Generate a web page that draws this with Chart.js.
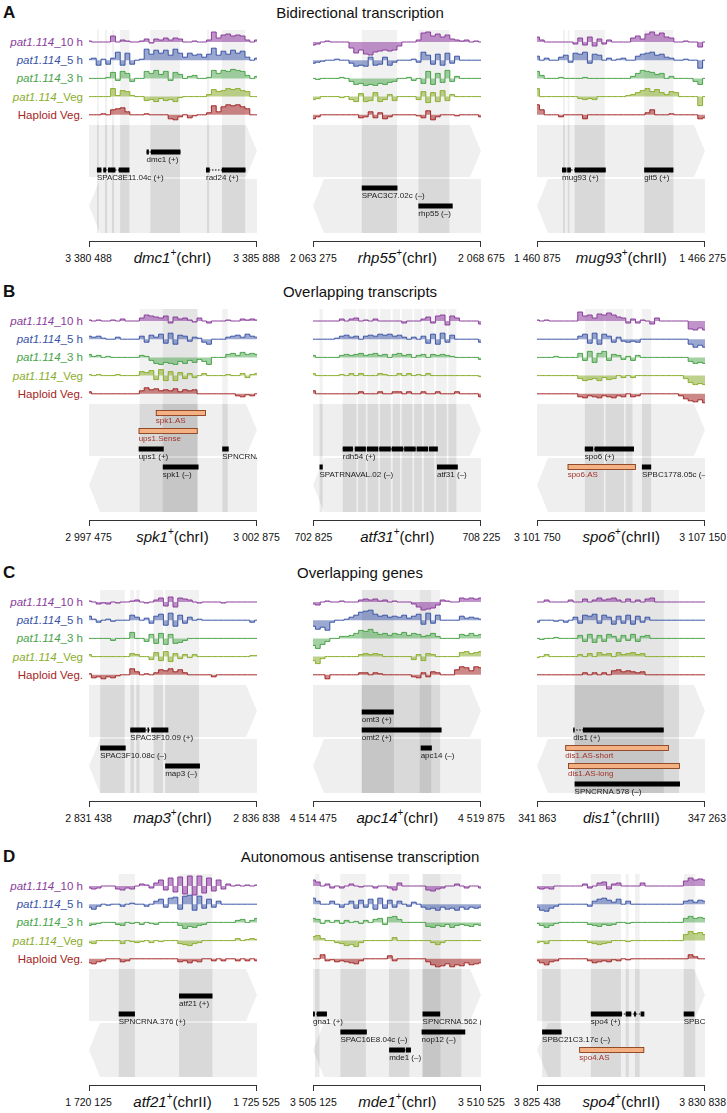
<!DOCTYPE html>
<html>
<head>
<meta charset="utf-8">
<script src="https://cdn.jsdelivr.net/npm/chart.js@4.4.1/dist/chart.umd.min.js"></script>
<style>
body{margin:0;width:727px;height:1113px;position:relative;background:#fff;overflow:hidden;
 font-family:"Liberation Sans",Arial,Helvetica,sans-serif;color:#111}
.abs{position:absolute;white-space:nowrap}
.letter{font-weight:bold;font-size:17px;line-height:18px;left:3px}
.title{font-size:15px;line-height:18px;left:0;width:720px;text-align:center}
.tlab{font-size:11.5px;line-height:14px;text-align:right;width:110px}
.brk{height:6px;border:1px solid #333;border-bottom:none;box-sizing:border-box}
.num{font-size:10.5px;line-height:14px;width:90px;text-align:center}
.gname{font-size:15px;line-height:18px;text-align:center}
.gname .sup{font-size:10px;position:relative;top:-7px}
canvas{position:absolute}
</style>
</head>
<body>
<script>
// ---- text ----
const panelLetters = ['A','B','C','D'];
const panelTitles = ['Bidirectional transcription','Overlapping transcripts','Overlapping genes','Autonomous antisense transcription'];
const trackNames = ['pat1.114_10 h','pat1.114_5 h','pat1.114_3 h','pat1.114_Veg','Haploid Veg.'];
const trackColors = ['#8a3c9c','#3853a6','#47a347','#8aad2b','#a32424'];
const trackFills = ['rgba(140,60,160,0.55)','rgba(56,83,166,0.5)','rgba(71,163,71,0.5)','rgba(138,173,43,0.55)','rgba(163,36,36,0.55)'];

// locus: gene, chromosome, window start, window end
const lociGene = ['dmc1','rhp55','mug93','spk1','atf31','spo6','map3','apc14','dis1','atf21','mde1','spo4'];
const lociChr = ['chrI','chrI','chrII','chrI','chrI','chrII','chrI','chrI','chrIII','chrII','chrI','chrII'];
const lociStart = [3380488,2063275,1460875,2997475,702825,3101750,2831438,4514475,341863,1720125,3505125,3825438];
const lociEnd = [3385888,2068675,1466275,3002875,708225,3107150,2836838,4519875,347263,1725525,3510525,3830838];

// ---- signal tracks (5 per locus: 10 h, 5 h, 3 h, Veg, haploid Veg), samples across the window ----
const dmc1Signal = [
 [1,0,0,0,0,6,0,2,1,0,0,1,3,-1,3,2,4,2,4,3,0,0,1,0,0,2,10,4,7,8,6,7,6,2,0,2],
 [1,2,-5,1,-4,2,8,-5,7,-4,0,1,11,6,10,7,10,5,11,7,3,7,5,6,3,6,12,5,9,6,10,7,9,3,0,2],
 [0,0,0,0,1,6,-2,7,5,-3,0,0,7,5,8,4,7,-2,6,4,0,2,3,0,0,1,8,5,8,7,9,8,7,3,0,2],
 [0,0,0,0,0,8,1,6,5,1,0,0,-4,-3,-5,-2,-4,-3,-5,-1,0,0,0,0,0,2,7,5,6,8,7,8,6,5,0,0],
 [0,0,0,1,0,5,6,7,3,0,0,0,1,0,0,0,0,-4,-5,-2,0,-3,-1,0,0,2,9,3,8,10,9,10,8,6,0,0]];
const rhp55Signal = [
 [-3,-2,0,1,0,0,0,0,-6,-11,-8,-12,-13,-10,-9,-8,-9,-8,-4,0,0,0,2,9,10,6,8,5,7,3,2,1,2,0,1,0],
 [-3,-2,-1,0,0,1,0,0,-3,-6,-5,-6,3,-5,-4,3,-5,-2,0,0,0,1,-2,8,5,-4,6,-5,7,-3,4,0,0,0,0,0],
 [0,-1,0,0,0,0,1,0,-3,-6,-5,-7,-6,-7,-5,-6,-4,-3,0,0,1,-2,0,-5,7,-6,5,-4,8,-3,2,0,0,0,0,0],
 [-3,-2,0,0,0,0,-1,0,-3,-5,3,-5,-4,4,-5,-3,2,-4,0,0,0,0,-3,5,-6,4,-5,6,-4,2,0,0,0,0,0,0],
 [-4,-2,0,0,0,0,0,0,0,0,-3,-2,3,-3,2,-4,-2,0,0,0,0,0,-1,-3,4,-5,-2,0,0,0,-1,0,0,0,0,-2]];
const mug93Signal = [
 [5,2,0,0,0,0,0,0,-2,4,-3,5,-4,3,-2,2,0,0,0,0,4,6,3,8,10,7,9,5,4,0,0,1,0,0,-5,0],
 [4,0,2,0,0,3,5,-2,7,6,8,-3,6,5,0,2,0,1,2,0,0,4,6,7,8,5,6,3,2,0,0,1,0,0,-8,0],
 [7,3,0,0,0,1,0,0,0,0,1,0,0,0,0,0,0,0,0,0,2,5,8,7,6,4,5,0,2,0,0,0,0,-3,-6,0],
 [8,0,0,0,0,0,0,0,0,-2,-3,-2,-3,0,0,0,0,0,0,1,2,4,6,8,5,7,4,2,5,4,0,0,0,0,-9,0],
 [10,5,0,0,0,-2,0,0,0,0,-4,0,0,0,0,0,0,0,0,0,0,0,0,2,5,0,0,0,1,0,0,0,0,0,-4,-3]];
const spk1Signal = [
 [1,0,1,0,0,1,0,2,0,0,0,3,6,5,4,3,5,-2,4,2,3,1,-1,3,0,-2,0,0,0,1,0,0,2,1,2,1],
 [3,2,3,1,0,0,2,0,0,0,0,3,-3,4,2,5,-4,6,-5,4,3,-2,2,1,-3,-5,0,0,0,2,3,4,2,5,3,2],
 [3,1,2,0,1,0,0,0,0,0,0,2,1,-3,-6,-7,-5,-6,-7,-4,-6,-3,-5,-2,-4,-7,0,0,0,3,4,2,5,3,4,3],
 [1,0,1,0,0,0,1,0,0,0,0,4,3,5,-4,6,-5,4,-5,3,-3,2,-2,0,2,0,0,0,0,1,0,0,2,-2,1,2],
 [2,0,0,0,0,0,0,0,0,0,0,3,6,4,5,3,4,3,5,2,4,3,4,0,0,0,0,0,0,0,0,-2,-3,-1,-2,0]];
const atf31Signal = [
 [0,0,0,0,0,0,2,0,2,3,0,1,0,2,0,0,0,0,0,-2,0,0,0,2,4,-2,5,6,-4,5,3,0,0,0,0,-3],
 [0,0,0,0,0,1,3,4,2,3,0,3,4,3,5,4,5,3,4,2,0,2,0,3,-4,5,-5,6,-3,4,0,0,0,0,0,-3],
 [2,0,0,0,0,0,2,3,2,3,4,2,3,4,2,3,0,3,4,2,3,0,2,3,0,3,2,3,2,1,0,0,0,0,0,-2],
 [2,0,0,0,0,0,1,0,2,0,2,0,0,0,2,1,0,0,2,0,2,0,1,0,2,0,0,0,0,0,0,0,0,0,0,-1],
 [3,0,0,0,0,0,0,0,0,0,2,0,0,0,2,0,0,2,2,0,2,0,0,2,0,0,2,0,0,0,2,0,0,0,0,-3]];
const spo6Signal = [
 [1,0,1,0,0,0,0,0,0,9,5,6,3,7,6,8,6,4,3,-2,2,-2,1,0,-3,3,0,0,0,0,0,0,-8,-9,-7,-9],
 [0,0,0,0,0,0,0,0,0,3,5,-4,6,-5,5,3,-3,2,-2,-3,-2,-3,0,0,0,0,0,0,0,0,0,0,-5,-8,-6,-8],
 [0,0,0,0,1,0,0,0,0,4,-3,6,-5,4,6,-3,3,2,-2,1,-3,2,0,0,0,0,0,0,0,0,0,0,-4,-6,-5,-6],
 [0,0,0,0,0,0,0,0,0,-3,-5,-4,-3,-5,-2,-4,-3,0,-2,0,-2,0,0,0,0,0,0,0,0,0,0,-3,-7,-9,-8,-9],
 [0,0,0,0,0,0,0,0,0,-3,-4,-2,-3,-4,-2,-3,-4,-2,-3,0,-3,-2,0,0,0,0,0,0,0,0,-2,-5,-7,-8,-6,-9]];
const map3Signal = [
 [1,0,-2,-1,-2,0,-1,0,0,1,2,0,-1,0,2,4,-4,5,-5,4,3,2,0,-1,0,0,0,0,-1,0,0,0,0,0,0,0],
 [4,1,-2,0,1,-1,0,0,0,5,3,0,2,-3,4,6,-5,7,-6,5,-3,3,0,1,0,0,0,0,0,0,0,0,0,0,-2,0],
 [0,0,0,0,0,-2,0,0,0,6,0,0,-3,4,-5,5,-6,4,-5,-4,-2,0,0,0,0,0,0,0,0,0,0,0,0,0,0,0],
 [2,0,0,0,0,0,0,0,0,3,2,0,0,-3,4,-4,5,-5,3,-2,2,-1,2,0,0,0,0,0,0,0,0,0,0,0,1,1],
 [1,-3,-2,-4,-2,-3,-1,0,0,6,3,0,1,0,2,5,4,6,3,5,2,0,0,0,0,0,-2,0,0,0,0,0,0,0,0,0]];
const apc14Signal = [
 [-2,-3,0,1,0,0,1,0,0,0,2,3,2,3,1,2,0,1,0,0,0,-2,-5,-8,-7,-6,-3,2,1,0,0,4,3,4,3,4],
 [-6,-9,-7,-10,-2,0,0,1,3,5,8,9,10,6,4,5,3,4,3,5,2,4,6,-4,7,-3,5,0,0,0,0,4,2,3,2,1],
 [-7,-10,-6,-3,0,0,2,2,3,5,8,7,9,6,4,5,3,5,4,6,3,5,4,2,3,5,2,0,0,0,0,4,3,5,3,4],
 [-4,-7,-2,0,0,0,0,0,0,0,2,3,2,3,2,0,0,0,0,0,0,-3,2,-4,3,2,0,0,0,0,0,4,5,3,4,5],
 [0,0,0,-4,0,0,0,0,0,0,2,2,0,2,1,0,0,0,0,0,0,-2,-3,2,-2,3,2,0,0,0,5,8,7,4,8,7]];
const dis1Signal = [
 [0,0,2,0,0,0,0,2,0,0,3,0,2,4,2,3,4,2,0,3,0,2,0,3,4,0,0,0,0,0,0,0,0,0,0,0],
 [-2,0,0,0,-1,0,-2,0,3,-3,5,4,6,-3,5,3,-4,4,-3,5,-4,4,-2,3,0,0,0,0,0,0,0,0,0,0,0,0],
 [0,-1,0,0,1,0,0,0,0,3,-3,4,-4,3,-3,4,2,-3,3,-2,4,-3,2,3,0,0,0,0,0,0,0,0,0,0,0,0],
 [-1,0,2,0,0,0,0,0,0,2,0,3,0,4,2,3,0,4,2,3,4,2,3,0,0,0,0,0,0,0,0,0,0,0,0,0],
 [0,0,0,0,0,0,0,0,0,0,2,0,2,0,2,0,4,5,3,4,3,2,3,0,0,0,0,0,0,0,0,0,0,0,0,0]];
const atf21Signal = [
 [-2,-3,-2,0,0,0,-3,-4,-2,-3,0,2,1,-2,3,6,-4,8,-6,9,-8,10,-9,10,-7,8,-5,6,-3,2,0,1,0,1,0,1],
 [-3,-5,-2,0,-1,0,0,-2,0,1,0,0,-2,0,3,5,-3,6,7,-5,8,9,-6,8,-4,5,-3,3,0,0,0,0,0,0,0,0],
 [-3,-2,-1,0,0,0,-2,-3,0,-1,0,-2,0,-1,-2,0,0,0,0,-3,-6,-4,-5,-3,-2,0,0,0,0,0,0,2,3,0,2,4],
 [-2,-3,0,0,0,0,0,-3,0,-1,-2,-1,0,-2,0,-1,0,0,0,-3,-4,-5,-3,-2,0,0,0,0,0,0,0,2,0,1,2,1],
 [-4,-5,-3,-2,0,0,0,-3,-2,0,0,0,0,0,0,0,0,0,0,-3,-2,-4,-2,-3,0,0,-2,0,-2,0,0,-2,0,-2,0,-2]];
const mde1Signal = [
 [6,4,0,2,-2,0,-2,0,2,0,-1,0,0,-2,0,0,-2,-4,3,0,0,0,0,0,-4,-5,-3,-2,0,0,2,0,-2,0,0,-2],
 [6,3,0,0,3,0,-3,0,3,-4,4,-3,5,-5,6,-4,4,-3,3,0,-2,2,0,-3,-5,-4,-6,-3,-5,-4,-6,-3,-5,-3,-4,-3],
 [4,3,-1,2,0,2,-1,2,0,1,-1,2,0,3,4,-2,5,6,3,0,0,0,0,0,-4,-5,-3,-4,-2,-5,-3,-2,-3,-4,-2,-3],
 [4,5,2,0,0,-2,-3,-5,-4,-6,-2,0,0,0,0,0,0,3,0,0,0,0,0,0,0,-2,-4,-2,0,0,0,0,0,0,0,0],
 [0,0,4,-2,-1,-3,-2,-3,-4,-5,-2,0,0,0,0,0,3,-2,0,0,0,0,0,0,-3,-6,-8,-7,-5,-8,-6,-7,-4,-6,-5,-4]];
const spo4Signal = [
 [-2,-3,-2,-3,0,0,0,0,0,0,2,-2,0,3,4,-3,2,3,0,0,0,0,3,0,0,0,0,0,0,0,0,5,8,6,7,6],
 [-3,-6,-7,-4,-2,0,0,0,0,0,0,-2,3,5,6,4,2,5,0,3,0,0,0,0,0,0,0,0,0,0,0,3,4,2,4,3],
 [-1,-3,-5,-3,-1,0,0,0,0,0,0,-2,-3,-4,-2,-3,-2,0,0,-1,0,0,0,0,0,0,0,0,0,0,0,4,6,4,5,4],
 [-2,-1,-3,0,0,0,0,0,0,0,0,-2,-3,-4,-3,-2,0,0,0,-1,0,0,0,0,0,0,0,0,0,0,0,6,9,7,8,6],
 [-2,-4,-6,-3,-2,0,0,0,0,0,0,-2,-4,-3,-2,-3,-1,-2,0,-1,0,0,0,0,0,0,0,0,0,0,0,0,4,2,0,0]];

// ---- shaded regions (bp from window start) ----
const dmc1Bands = [[255,315],[510,585],[735,810],[1000,1300],[1970,2925],[3790,3865],[4275,5020]];
const rhp55Bands = [[1567,2700],[3387,4387]];
const mug93Bands = [[835,900],[985,1045],[1210,2180],[3445,4385]];
const spk1Bands = [[1626,3490],[2370,3490],[4282,4460]];
const atf31Bands = [[209,313],[955,1400],[1450,1700],[1750,2100],[2150,2500],[2560,2800],[2850,3200],[3250,3500],[3560,3900],[3950,4300],[4350,4610]];
const spo6Bands = [[1537,2150],[2200,2800],[2850,3073],[3372,3670]];
const map3Bands = [[358,1149],[1328,1450],[1520,1626],[2074,2380],[2450,3536]];
const apc14Bands = [[1567,4088],[1567,2600],[3430,3800]];
const dis1Bands = [[1209,4073],[1209,4565]];
const atf21Bands = [[955,1477],[2894,3969]];
const mde1Bands = [[60,210],[880,1700],[2440,3100],[3520,4770],[3520,4100]];
const spo4Bands = [[164,761],[1731,2700],[2850,2950],[3150,3300],[4715,5088]];

// ---- annotations: row 0-2 plus strand, 3-5 minus strand; as = antisense/sense transcript ----
const dmc1Genes = [
 {name:'dmc1 (+)', row:1, exons:[[1850,1925],[1990,2940]]},
 {name:'SPAC8E11.04c (+)', row:2, exons:[[255,400],[460,550],[610,850],[955,1300]]},
 {name:'rad24 (+)', row:2, exons:[[3760,3880],[4270,5030]]}];
const rhp55Genes = [
 {name:'SPAC3C7.02c (\u2013)', row:3, exons:[[1567,2715]]},
 {name:'rhp55 (\u2013)', row:4, exons:[[3387,4490]]}];
const mug93Genes = [
 {name:'mug93 (+)', row:2, exons:[[805,945],[970,1090],[1210,2210]]},
 {name:'git5 (+)', row:2, exons:[[3445,4385]]}];
const spk1Genes = [
 {name:'spk1.AS', row:0, as:true, exons:[[2149,3760]]},
 {name:'ups1.Sense', row:1, as:true, exons:[[1596,3491]]},
 {name:'ups1 (+)', row:2, exons:[[1596,2402]]},
 {name:'SPNCRNA', row:2, exons:[[4282,4491]]},
 {name:'spk1 (\u2013)', row:3, exons:[[2372,3521]]}];
const atf31Genes = [
 {name:'rdh54 (+)', row:2, exons:[[955,1283],[1343,1700],[1730,2100],[2130,2500],[2530,2900],[2930,3300],[3330,3700],[3730,4013]]},
 {name:'SPATRNAVAL.02 (\u2013)', row:3, exons:[[209,313]]},
 {name:'atf31 (\u2013)', row:3, exons:[[3984,4655]]}];
const spo6Genes = [
 {name:'spo6 (+)', row:2, exons:[[1537,1806],[1850,3118]]},
 {name:'spo6.AS', row:3, as:true, exons:[[985,3178]]},
 {name:'SPBC1778.05c (\u2013)', row:3, exons:[[3372,3670]]}];
const map3Genes = [
 {name:'SPAC3F10.09 (+)', row:2, exons:[[1328,1820],[1880,1930],[2000,2550]]},
 {name:'SPAC3F10.08c (\u2013)', row:3, exons:[[358,1179]]},
 {name:'map3 (\u2013)', row:4, exons:[[2447,3566]]}];
const apc14Genes = [
 {name:'omt3 (+)', row:1, exons:[[1567,2596]]},
 {name:'omt2 (+)', row:2, exons:[[1567,4133]]},
 {name:'apc14 (\u2013)', row:3, exons:[[3461,3820]]}];
const dis1Genes = [
 {name:'dis1 (+)', row:2, exons:[[1164,1209],[1477,4073]]},
 {name:'dis1.AS-short', row:3, as:true, exons:[[910,4237]]},
 {name:'dis1.AS-long', row:4, as:true, exons:[[1000,4596]]},
 {name:'SPNCRNA.578 (\u2013)', row:5, exons:[[1209,4596]]}];
const atf21Genes = [
 {name:'atf21 (+)', row:1, exons:[[2894,3969]]},
 {name:'SPNCRNA.376 (+)', row:2, exons:[[955,1477]]}];
const mde1Genes = [
 {name:'gna1 (+)', row:2, exons:[[0,60],[120,448]]},
 {name:'SPNCRNA.562 (+)', row:2, exons:[[3521,4088]]},
 {name:'SPAC16E8.04c (\u2013)', row:3, exons:[[880,1731]]},
 {name:'nop12 (\u2013)', row:3, exons:[[3491,4894]]},
 {name:'mde1 (\u2013)', row:4, exons:[[2447,2954],[2984,3148]]}];
const spo4Genes = [
 {name:'spo4 (+)', row:2, exons:[[1731,2730],[2850,3030],[3120,3180],[3330,3450]]},
 {name:'SPBC', row:2, exons:[[4715,5058]]},
 {name:'SPBC21C3.17c (\u2013)', row:3, exons:[[164,791]]},
 {name:'spo4.AS', row:4, as:true, exons:[[1358,3446]]}];

const signals = [dmc1Signal,rhp55Signal,mug93Signal,spk1Signal,atf31Signal,spo6Signal,map3Signal,apc14Signal,dis1Signal,atf21Signal,mde1Signal,spo4Signal];
const bands = [dmc1Bands,rhp55Bands,mug93Bands,spk1Bands,atf31Bands,spo6Bands,map3Bands,apc14Bands,dis1Bands,atf21Bands,mde1Bands,spo4Bands];
const genes = [dmc1Genes,rhp55Genes,mug93Genes,spk1Genes,atf31Genes,spo6Genes,map3Genes,apc14Genes,dis1Genes,atf21Genes,mde1Genes,spo4Genes];

// ---- layout ----
const VIEW_X = [88.5, 313.4, 537.3];
const VIEW_W = 168;
const PAGE_W = 727;
const PANEL_Y = [42, 321, 602, 886];   // baseline of first track
const TRACK_GAP = 18.2;
const Y_MIN = -16, Y_MAX = 198;
const ROW_Y0 = 92, ROW_GAP = 18;
const PLUS_ARROW = [83, 135], MINUS_ARROW = [137, 191];
const BAND_TOP = -12, BAND_BOT = 191;

function addDiv(cls, html, css){
  const d = document.createElement('div');
  d.className = 'abs ' + cls;
  d.innerHTML = html;
  Object.assign(d.style, css);
  document.body.appendChild(d);
  return d;
}
const fmt = n => String(n).replace(/\B(?=(\d{3})+(?!\d))/g, ' ');

function browserPlugin(bandList, geneList, span){
  return {
    id: 'browser',
    beforeDatasetsDraw(chart){
      const {ctx, scales:{x, y}} = chart;
      const x0 = x.getPixelForValue(0), x1 = x.getPixelForValue(span);
      const head = 11;
      ctx.save();
      ctx.fillStyle = '#efefef';
      let t = y.getPixelForValue(PLUS_ARROW[0]), b = y.getPixelForValue(PLUS_ARROW[1]);
      ctx.beginPath();
      ctx.moveTo(x0, t); ctx.lineTo(x1 - head, t); ctx.lineTo(x1, (t + b) / 2);
      ctx.lineTo(x1 - head, b); ctx.lineTo(x0, b); ctx.closePath(); ctx.fill();
      t = y.getPixelForValue(MINUS_ARROW[0]); b = y.getPixelForValue(MINUS_ARROW[1]);
      ctx.beginPath();
      ctx.moveTo(x1, t); ctx.lineTo(x0 + head, t); ctx.lineTo(x0, (t + b) / 2);
      ctx.lineTo(x0 + head, b); ctx.lineTo(x1, b); ctx.closePath(); ctx.fill();
      // shaded regions
      const bt = y.getPixelForValue(BAND_TOP), bb = y.getPixelForValue(BAND_BOT);
      const gt = y.getPixelForValue(PLUS_ARROW[0]);
      bandList.forEach(([s, e]) => {
        const xa = x.getPixelForValue(s), xb = x.getPixelForValue(e);
        ctx.fillStyle = 'rgba(0,0,0,0.055)';
        ctx.fillRect(xa, bt, xb - xa, bb - bt);
        ctx.fillStyle = 'rgba(0,0,0,0.03)';
        ctx.fillRect(xa, gt, xb - xa, bb - gt);
      });
      ctx.restore();
    },
    afterDatasetsDraw(chart){
      const {ctx, scales:{x, y}} = chart;
      ctx.save();
      ctx.font = '8px "Liberation Sans", Arial, sans-serif';
      ctx.textBaseline = 'top';
      geneList.forEach(g => {
        const yc = y.getPixelForValue(ROW_Y0 + ROW_GAP * g.row);
        const xs = x.getPixelForValue(g.exons[0][0]);
        const xe = x.getPixelForValue(g.exons[g.exons.length - 1][1]);
        if (g.exons.length > 1){
          ctx.strokeStyle = '#000'; ctx.lineWidth = 1; ctx.setLineDash([1.5, 1.5]);
          ctx.beginPath(); ctx.moveTo(xs, yc); ctx.lineTo(xe, yc); ctx.stroke();
          ctx.setLineDash([]);
        }
        g.exons.forEach(([a, b]) => {
          const xa = x.getPixelForValue(a), xb = x.getPixelForValue(b);
          if (g.as){
            ctx.fillStyle = '#f4b183';
            ctx.fillRect(xa, yc - 3, xb - xa, 6);
            ctx.strokeStyle = '#7a3216'; ctx.lineWidth = 0.8;
            ctx.strokeRect(xa + 0.4, yc - 2.6, xb - xa - 0.8, 5.2);
          } else {
            ctx.fillStyle = '#000';
            ctx.fillRect(xa, yc - 2.5, xb - xa, 5);
          }
        });
        ctx.fillStyle = g.as ? '#a3342c' : '#1a1a1a';
        ctx.fillText(g.name, xs, yc + 3.5);
      });
      ctx.restore();
    }
  };
}

function drawView(p, v){
  const k = p * 3 + v;
  const left = VIEW_X[v], top = PANEL_Y[p];
  const canvas = document.createElement('canvas');
  canvas.width = VIEW_W; canvas.height = Y_MAX - Y_MIN;
  canvas.style.left = left + 'px';
  canvas.style.top = (top + Y_MIN) + 'px';
  document.body.appendChild(canvas);

  const span = lociEnd[k] - lociStart[k];
  const datasets = signals[k].map((vals, i) => ({
    data: vals.map((val, j) => ({x: j * span / (vals.length - 1), y: TRACK_GAP * i - val})),
    borderColor: trackColors[i],
    backgroundColor: trackFills[i],
    borderWidth: 1,
    pointRadius: 0,
    stepped: 'middle',
    fill: {value: TRACK_GAP * i}
  }));

  new Chart(canvas, {
    type: 'line',
    data: {datasets},
    options: {
      responsive: false,
      animation: false,
      events: [],
      layout: {padding: 0},
      plugins: {legend: {display: false}, tooltip: {enabled: false}},
      scales: {
        x: {type: 'linear', min: 0, max: span, display: false},
        y: {type: 'linear', min: Y_MIN, max: Y_MAX, reverse: true, display: false}
      }
    },
    plugins: [browserPlugin(bands[k], genes[k], span)]
  });

  // coordinate bracket and labels
  addDiv('brk', '', {left: left + 'px', top: (top + 199) + 'px', width: VIEW_W + 'px'});
  addDiv('num', fmt(lociStart[k]), {left: (left - 45) + 'px', top: (top + 209) + 'px'});
  const endLab = addDiv('num', fmt(lociEnd[k]), {left: (left + VIEW_W - 45) + 'px', top: (top + 209) + 'px'});
  if (left + VIEW_W + 45 > PAGE_W - 2){
    // keep the last coordinate inside the page
    endLab.style.left = 'auto'; endLab.style.width = 'auto';
    endLab.style.right = '1px';
  }
  addDiv('gname', '<i>' + lociGene[k] + '</i><span class="sup">+</span>(' + lociChr[k] + ')',
    {left: left + 'px', width: VIEW_W + 'px', top: (top + 207) + 'px'});
}

for (let p = 0; p < 4; p++){
  const top = PANEL_Y[p];
  addDiv('letter', panelLetters[p], {top: (top - 38) + 'px'});
  addDiv('title', panelTitles[p], {top: (top - 38) + 'px'});
  trackNames.forEach((n, i) => {
    const u = n.indexOf('_');
    const html = u > 0 ? '<i>' + n.slice(0, u) + '</i>' + n.slice(u) : n;
    addDiv('tlab', html, {left: (83 - 110) + 'px', top: (top + TRACK_GAP * i - 7) + 'px', color: trackColors[i]});
  });
  for (let v = 0; v < 3; v++) drawView(p, v);
}
</script>
</body>
</html>
